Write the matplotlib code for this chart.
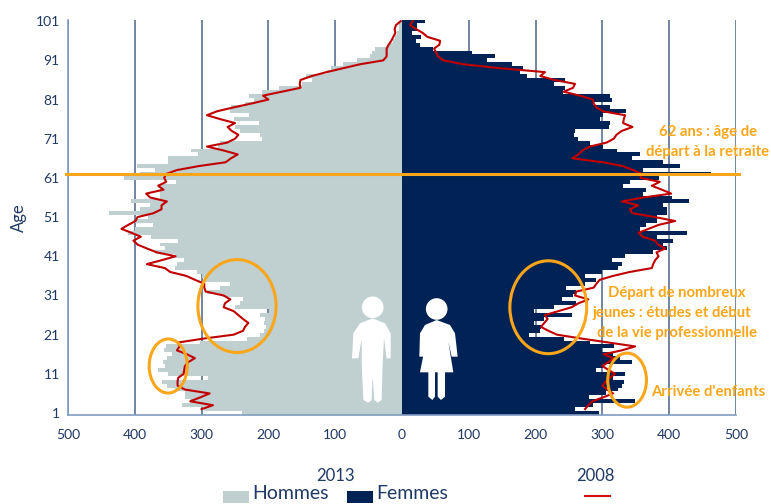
import matplotlib
matplotlib.use("Agg")
import matplotlib.pyplot as plt
import numpy as np
from matplotlib.patches import Ellipse, Polygon, Circle, Rectangle
from matplotlib.lines import Line2D
from matplotlib.transforms import Affine2D

plt.rcParams['font.family'] = ['Lato', 'DejaVu Sans']

ages = list(range(101, 0, -1))
ages_2008 = list(range(101, 1, -1))

hommes_2013 = [3,4,5,7,10,13,20,40,45,48,68,89,107,113,143,135,150,184,210,229,222,235,256,257,229,252,214,250,243,
               212,209,272,275,316,305,350,350,397,370,392,416,339,365,362,362,362,405,377,392,438,380,
               400,373,400,410,376,336,362,355,370,340,326,337,340,307,300,295,257,273,292,268,238,242,250,199,213,205,
               207,203,207,212,232,302,353,356,345,352,358,355,366,350,291,360,352,340,325,325,317,329,297,240]
femmes_2013 = [34,22,22,15,28,21,27,47,105,139,127,165,181,176,187,244,227,244,241,312,314,286,312,336,301,296,312,310,
               259,257,264,281,301,322,356,344,391,416,361,462,384,341,331,366,361,404,429,391,396,396,381,381,366,357,
               426,381,405,391,396,376,334,314,329,324,299,274,291,274,245,261,256,239,261,227,198,255,212,197,208,207,
               190,242,281,318,299,316,326,344,301,291,334,316,332,329,324,306,280,349,286,259,295]
hommes_2008 = [2,9,11,10,13,16,20,23,23,23,28,63,88,113,135,152,153,152,180,208,200,225,252,277,292,272,250,261,255,245,
               250,262,292,267,246,256,264,305,337,353,356,353,365,357,383,377,352,360,360,372,396,399,410,420,405,391,
               402,396,382,367,339,360,382,355,347,323,310,296,296,294,267,257,265,267,252,245,238,230,235,238,252,297,
               335,333,337,322,310,320,325,326,327,335,336,336,325,288,302,317,283,300]
femmes_2008 = [16,12,21,31,38,57,56,48,51,54,62,92,147,214,207,228,259,256,242,266,286,287,291,301,334,332,331,345,329,
               321,317,306,281,270,264,255,301,331,346,359,357,386,374,389,403,361,329,354,341,345,379,409,384,369,354,
               360,379,383,394,381,384,379,376,374,341,316,296,291,287,261,259,279,264,254,234,214,218,213,208,219,232,
               269,309,349,329,302,316,309,300,309,319,311,305,300,307,316,301,285,279,274]

x_ticks = [-500, -400, -300, -200, -100, 0, 100, 200, 300, 400, 500]
x_labels = ['500', '400', '300', '200', '100', '0', '100', '200', '300', '400', '500']
y_ticks = [1, 11, 21, 31, 41, 51, 61, 71, 81, 91, 101]

GRAY = '#C0CFD0'
NAVY = '#002255'
RED = '#C00000'
ORANGE = '#FAA61A'
TXT = '#1F3864'

W, H = 771, 504
fig = plt.figure(figsize=(W / 100, H / 100), dpi=100, facecolor='white')
ax = fig.add_axes([68 / W, 1 - 415 / H, (736 - 68) / W, (415 - 20) / H])
ax.set_xlim(-500, 500)
ax.set_ylim(0.5, 101.3)

for t_ in x_ticks:
    ax.axvline(t_, color='#4A6388', lw=1.1, zorder=1)

ax.barh(ages, -np.array(hommes_2013), height=1.0, color=GRAY, lw=0, zorder=2)
ax.barh(ages, femmes_2013, height=1.0, color=NAVY, lw=0, zorder=2)
ax.plot(-np.array(hommes_2008), ages_2008, color=RED, lw=1.5, zorder=4)
ax.plot(femmes_2008, ages_2008, color=RED, lw=1.5, zorder=4)

ax.plot([-503, 505], [62, 62], color=ORANGE, lw=2.2, zorder=5, clip_on=False)

for c, w, h in [((-247, 28.3), 117, 23.7), ((-350, 13), 57, 13.8),
                ((219, 28), 115, 23.7), ((337, 9.4), 58, 13.8)]:
    ax.add_patch(Ellipse(c, w, h, fill=False, ec=ORANGE, lw=2.2, zorder=5))

for s in ['top', 'right']:
    ax.spines[s].set_visible(False)
ax.spines['left'].set_color('#7F9CC0')
ax.spines['bottom'].set_color('#7F9CC0')
ax.spines['left'].set_linewidth(1.2)
ax.spines['bottom'].set_linewidth(1.2)
ax.set_xticks(x_ticks)
ax.set_xticklabels(x_labels)
ax.set_yticks(y_ticks)
ax.tick_params(length=0, colors=TXT, labelsize=10)
ax.tick_params(axis='x', pad=10)
ax.tick_params(axis='y', pad=6)
ax.set_ylabel('Age', color=TXT, fontsize=12, labelpad=6)

px = Affine2D().scale(1 / W, -1 / H).translate(0, 1) + fig.transFigure

def zoom_man(pts):
    return [(60 + x / 3, 210 + y / 3) for x, y in pts]

def zoom_woman(pts):
    return [(400 + x / 3, 210 + y / 3) for x, y in pts]

man = [(938,325),(900,340),(880,370),(876,445),(895,445),(905,385),(905,460),(910,570),(925,578),(935,570),
       (938,500),(943,570),(953,578),(965,570),(968,460),(972,385),(980,445),(992,445),(992,370),(975,340)]
woman = [(110,330),(75,345),(60,370),(58,440),(72,440),(78,395),(60,487),(85,487),(85,560),(97,570),(105,560),
         (105,487),(113,487),(113,560),(123,570),(135,560),(135,487),(160,487),(145,395),(155,440),(173,440),
         (165,370),(150,345)]
ART = dict(transform=px, fc='white', ec='none', zorder=6, clip_on=False)
fig.add_artist(Polygon(zoom_man(man), **ART))
fig.add_artist(Polygon(zoom_woman(woman), **ART))
fig.add_artist(Circle((372.7, 307.3), 10.8, **ART))
fig.add_artist(Circle((436.7, 309), 10.8, **ART))

def t(x, y, s, **k):
    fig.text(x / W, 1 - y / H, s, ha=k.pop('ha', 'center'), va=k.pop('va', 'center'), **k)

note = dict(color=ORANGE, fontweight='bold', fontsize=10.7, zorder=7)
t(708, 132, '62 ans : âge de', **note)
t(708, 152, 'départ à la retraite', **note)
t(677, 293, 'Départ de nombreux', **note)
t(672, 313, 'jeunes : études et début', **note)
t(677, 333, 'de la vie professionnelle', **note)
t(708, 392, "Arrivée d'enfants", **note)

t(335, 476, '2013', color=TXT, fontsize=12)
t(595, 476, '2008', color=TXT, fontsize=12)
t(252, 499, 'Hommes', color=TXT, fontsize=14, ha='left', va='baseline')
t(376, 499, 'Femmes', color=TXT, fontsize=14, ha='left', va='baseline')
fig.add_artist(Rectangle((223, 491), 26, 12, transform=px, fc=GRAY, ec='none'))
fig.add_artist(Rectangle((347, 491), 26, 12, transform=px, fc=NAVY, ec='none'))
fig.add_artist(Line2D([585, 610], [496, 496], transform=px, color='#D01010', lw=1.5))

fig.savefig('out.png', dpi=100)
